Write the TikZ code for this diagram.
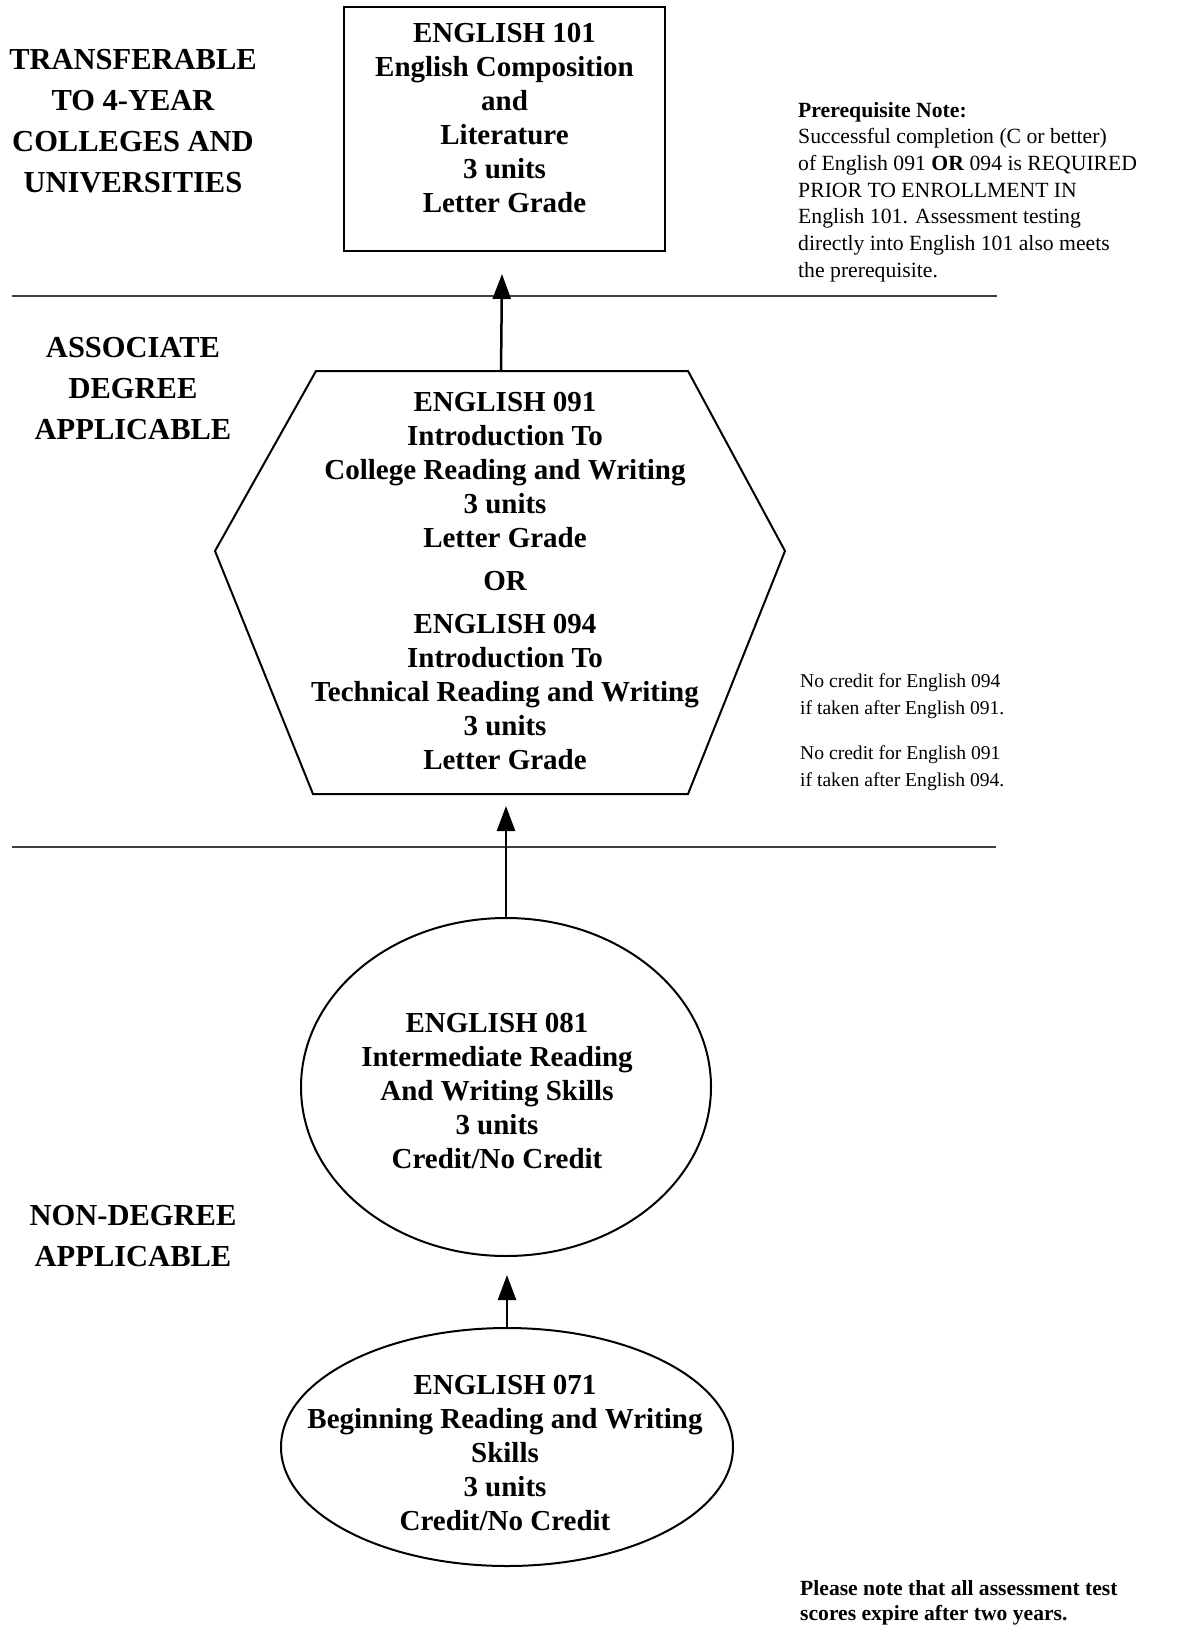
\documentclass[tikz,border=0pt]{standalone}
\usepackage{fontspec}
\setmainfont{Liberation Serif}
\usetikzlibrary{arrows.meta,shapes.geometric}
\begin{document}
\begin{tikzpicture}[x=1pt,y=-1pt,
  course/.style={font=\bfseries\fontsize{29}{34}\selectfont, align=center, inner sep=0},
  level/.style={font=\bfseries\fontsize{30.5}{41}\selectfont, align=center, inner sep=0},
  prenote/.style={font=\fontsize{21.7}{26.7}\selectfont, align=left, inner sep=0, anchor=west},
  smallnote/.style={font=\fontsize{19.6}{26.5}\selectfont, align=left, inner sep=0, anchor=west},
  boldnote/.style={font=\bfseries\fontsize{21.6}{25}\selectfont, align=left, inner sep=0, anchor=west},
  frame/.style={draw, line width=2.5},
  outline/.style={draw, line width=2},
  divider/.style={draw=black!75, line width=1.8},
  up/.style={-{Triangle[width=18,length=25]}, line width=2.5}]
\useasboundingbox (0,0) rectangle (1201,1645);

% level labels
\node[level] (lvl1) at (133,121) {TRANSFERABLE\\TO 4-YEAR\\COLLEGES AND\\UNIVERSITIES};
\node[level] (lvl2) at (133,389) {ASSOCIATE\\DEGREE\\APPLICABLE};
\node[level] (lvl3) at (133,1236) {NON-DEGREE\\APPLICABLE};

% dividers
\coordinate (d1a) at (12,296); \coordinate (d1b) at (997,296);
\coordinate (d2a) at (12,847); \coordinate (d2b) at (996,847);
\draw[divider] (d1a) -- (d1b);
\draw[divider] (d2a) -- (d2b);

% English 101 box
\node[frame, minimum width=321, minimum height=244, inner sep=0] (e101) at (504.5,129) {};
\node[course] (e101t) at (504.5,118) {ENGLISH 101\\English Composition\\and\\Literature\\3 units\\Letter Grade};

% hexagon
\coordinate (h1) at (316,371);
\coordinate (h2) at (688,371);
\coordinate (h3) at (785,551);
\coordinate (h4) at (688,794);
\coordinate (h5) at (313,794);
\coordinate (h6) at (215,551);
\draw[outline, line join=miter] (h1) -- (h2) -- (h3) -- (h4) -- (h5) -- (h6) -- cycle;
\node[course] (hex) at (505,581) {ENGLISH 091\\Introduction To\\College Reading and Writing\\3 units\\Letter Grade\\[9pt]OR\\[9pt]ENGLISH 094\\Introduction To\\Technical Reading and Writing\\3 units\\Letter Grade};
\coordinate (hextop) at (501,371);
\coordinate (tip1) at (502,274);

% English 081 ellipse
\node[outline, ellipse, minimum width=410, minimum height=338, inner sep=0] (e081) at (506,1087) {};
\node[course] (e081t) at (497,1091) {ENGLISH 081\\Intermediate Reading\\And Writing Skills\\3 units\\Credit/No Credit};
\coordinate (tip2) at (506,806);

% English 071 ellipse
\node[outline, ellipse, minimum width=452, minimum height=238, inner sep=0] (e071) at (507,1447) {};
\node[course] (e071t) at (505,1453) {ENGLISH 071\\Beginning Reading and Writing\\Skills\\3 units\\Credit/No Credit};
\coordinate (tip3) at (507,1275);

% arrows
\draw[up] (hextop) -- (tip1);
\draw[up] (e081.north) -- (tip2);
\draw[up] (e071.north) -- (tip3);

% notes
\node[prenote] (pre) at (798,192) {\textbf{Prerequisite Note:}\\Successful completion (C or better)\\of English 091 \textbf{OR} 094 is REQUIRED\\PRIOR TO ENROLLMENT IN\\English 101. Assessment testing\\directly into English 101 also meets\\the prerequisite.};
\node[smallnote] (nc1) at (800,696) {No credit for English 094\\if taken after English 091.};
\node[smallnote] (nc2) at (800,768) {No credit for English 091\\if taken after English 094.};
\node[boldnote] (exp) at (800,1603) {Please note that all assessment test\\scores expire after two years.};
\end{tikzpicture}
\end{document}
